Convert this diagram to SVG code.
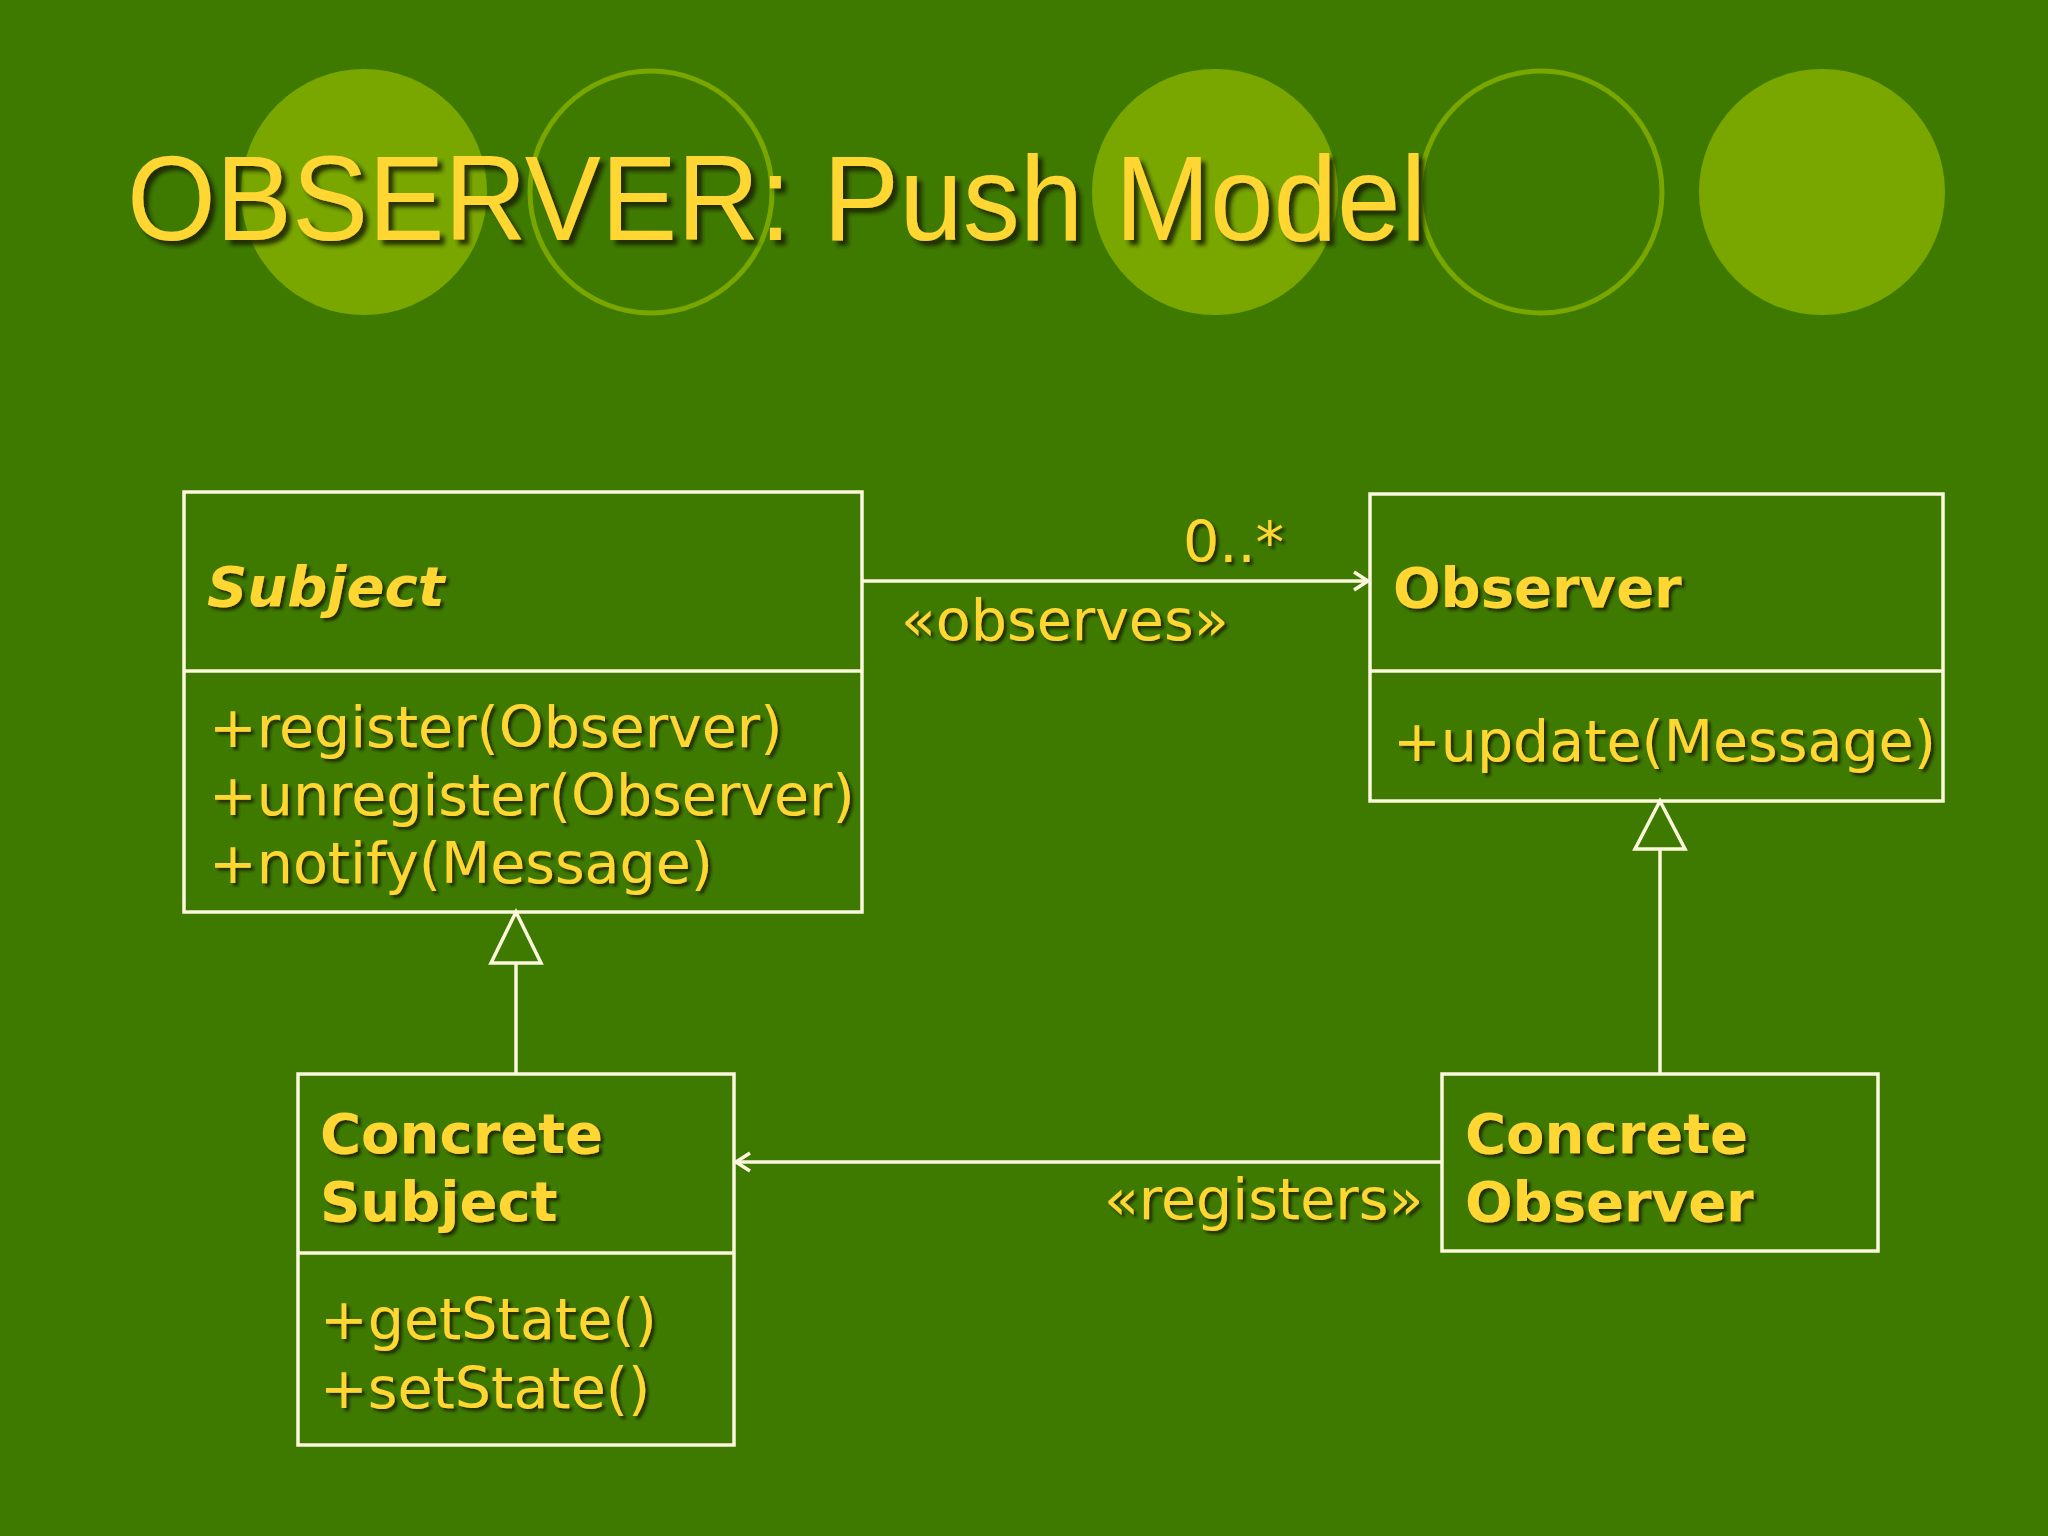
<svg xmlns="http://www.w3.org/2000/svg" width="2048" height="1536" viewBox="0 0 2048 1536">
<defs>
<style>
.bg{fill:#3f7a00}
.dot{fill:#79a700}
.ring{fill:none;stroke:#79a700;stroke-width:5}
.box{fill:none;stroke:#fbf8dc;stroke-width:3.5}
.ln{fill:none;stroke:#fbf8dc;stroke-width:3.5}
.tri{fill:#3f7a00;stroke:#fbf8dc;stroke-width:3.5;stroke-linejoin:miter}
.t{fill:#ffd633;font-family:"DejaVu Sans",Verdana,sans-serif;filter:url(#sh)}
.title{fill:#ffd633;font-family:"Liberation Sans",Arial,sans-serif;font-size:120px;filter:url(#sh2)}
.m{font-size:57px}
.n{font-size:56px;font-weight:bold}
</style>
<filter id="sh" x="-10%" y="-30%" width="120%" height="160%">
<feDropShadow dx="3" dy="3" stdDeviation="1.5" flood-color="#142000" flood-opacity="0.85"/>
</filter>
<filter id="sh2" x="-10%" y="-30%" width="120%" height="160%">
<feDropShadow dx="5" dy="5" stdDeviation="2" flood-color="#142000" flood-opacity="0.85"/>
</filter>
<marker id="open" markerWidth="24" markerHeight="24" refX="20" refY="12" orient="auto" markerUnits="userSpaceOnUse">
<path d="M6,3 L20,12 L6,21" fill="none" stroke="#fbf8dc" stroke-width="3.5"/>
</marker>
</defs>
<rect class="bg" x="0" y="0" width="2048" height="1536"/>
<g id="decor">
<circle class="dot" cx="364" cy="192" r="123"/>
<circle class="ring" cx="651" cy="192" r="121"/>
<circle class="dot" cx="1215" cy="192" r="123"/>
<circle class="ring" cx="1541" cy="192" r="121"/>
<circle class="dot" cx="1822" cy="192" r="123"/>
</g>
<text class="title" x="127" y="240" textLength="1299" lengthAdjust="spacingAndGlyphs">OBSERVER: Push Model</text>
<g id="connectors">
<line class="ln" x1="862" y1="581" x2="1368" y2="581" marker-end="url(#open)"/>
<line class="ln" x1="1442" y1="1162" x2="736" y2="1162" marker-end="url(#open)"/>
<line class="ln" x1="516" y1="1074" x2="516" y2="963"/>
<path class="tri" d="M516,912 L541,963 L491,963 Z"/>
<line class="ln" x1="1660" y1="1074" x2="1660" y2="849"/>
<path class="tri" d="M1660,801 L1685,849 L1635,849 Z"/>
<text class="t m" x="1183" y="562">0..*</text>
<text class="t m" x="901" y="640">«observes»</text>
<text class="t m" x="1104" y="1219">«registers»</text>
</g>
<g id="subject">
<rect class="box" x="184" y="492" width="678" height="420"/>
<line class="ln" x1="184" y1="671" x2="862" y2="671"/>
<text class="t n" x="207" y="606" font-style="italic">Subject</text>
<text class="t m" x="209" y="747">+register(Observer)</text>
<text class="t m" x="209" y="815">+unregister(Observer)</text>
<text class="t m" x="209" y="883">+notify(Message)</text>
</g>
<g id="observer">
<rect class="box" x="1370" y="494" width="573" height="307"/>
<line class="ln" x1="1370" y1="671" x2="1943" y2="671"/>
<text class="t n" x="1393" y="607">Observer</text>
<text class="t m" x="1393" y="761">+update(Message)</text>
</g>
<g id="concrete-subject">
<rect class="box" x="298" y="1074" width="436" height="371"/>
<line class="ln" x1="298" y1="1253" x2="734" y2="1253"/>
<text class="t n" x="320" y="1153">Concrete</text>
<text class="t n" x="320" y="1221">Subject</text>
<text class="t m" x="320" y="1339">+getState()</text>
<text class="t m" x="320" y="1408">+setState()</text>
</g>
<g id="concrete-observer">
<rect class="box" x="1442" y="1074" width="436" height="177"/>
<text class="t n" x="1465" y="1153">Concrete</text>
<text class="t n" x="1465" y="1221">Observer</text>
</g>
</svg>
